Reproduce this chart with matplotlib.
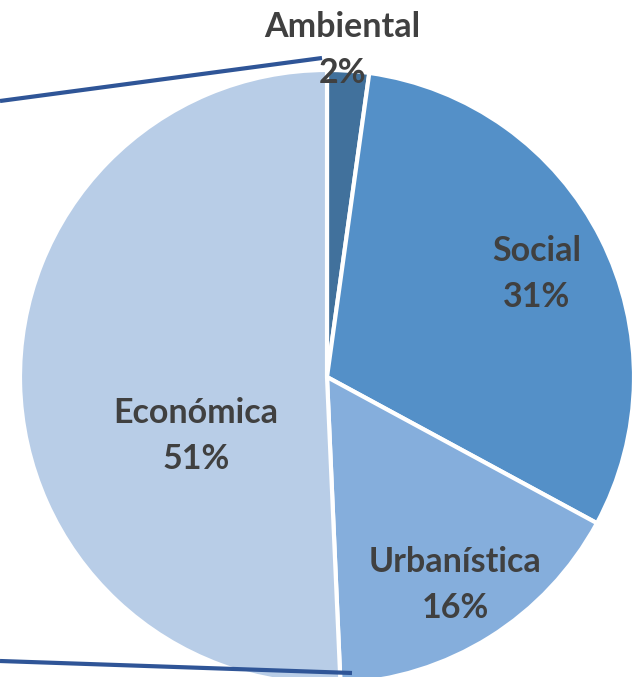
import matplotlib
matplotlib.use("Agg")
import matplotlib.pyplot as plt

categories = ["Ambiental", "Social", "Urbanística", "Económica"]
values = [2.2, 30.7, 16.4, 50.7]
colors = ["#41719C", "#5490C8", "#85AEDC", "#B8CDE7"]

W, H = 632, 677
fig = plt.figure(figsize=(W / 100, H / 100), dpi=100)
ax = fig.add_axes([0, 0, 1, 1])
ax.set_xlim(0, W)
ax.set_ylim(0, H)
ax.set_aspect("equal")
ax.axis("off")

cx, cy, R = 327, H - 377, 307
wedges, _ = ax.pie(values, colors=colors, startangle=90, counterclock=False,
                   center=(cx, cy), radius=R,
                   wedgeprops=dict(edgecolor="white", linewidth=3))
ax.set_xlim(0, W)
ax.set_ylim(0, H)

# connector lines (pie-of-pie style)
line_color = "#2F5597"
ax.plot([0, 322], [H - 101, H - 58], color=line_color, lw=3, solid_capstyle="butt", zorder=5)
ax.plot([0, 352], [H - 661, H - 673], color=line_color, lw=3, solid_capstyle="butt", zorder=5)

label_pos = {"Ambiental": (342, 46), "Social": (537, 270),
             "Urbanística": (455, 581), "Económica": (196, 432)}
txt_color = "#404040"
for cat, v in zip(categories, values):
    x, y = label_pos[cat]
    kw = dict(ha="center", va="center_baseline", fontsize=24.5, fontweight="bold",
              color=txt_color, family="Lato", zorder=6)
    ax.text(x, H - y + 22, cat, **kw)
    ax.text(x, H - y - 24, f"{round(v):d}%", **kw)

fig.savefig("out.png", dpi=100)
